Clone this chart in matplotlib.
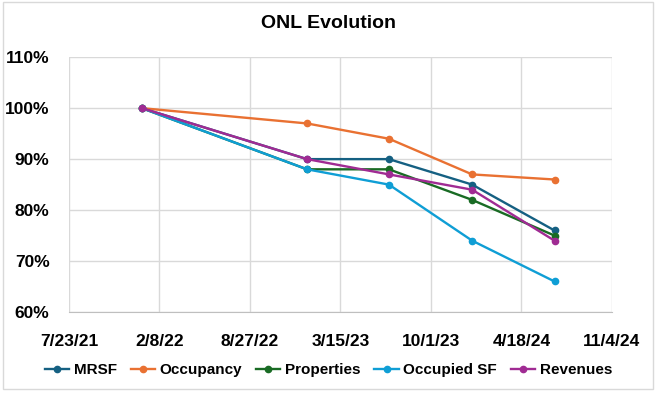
import numpy as np
import pandas as pd
import matplotlib
matplotlib.use("Agg")
import matplotlib.pyplot as plt
from matplotlib.patches import Rectangle

# data
dates = pd.to_datetime(["2021-12-31", "2022-12-31", "2023-06-30", "2023-12-31", "2024-06-30"])
mrsf = [100, 90, 90, 85, 76]
occupancy = [100, 97, 94, 87, 86]
properties = [100, 88, 88, 82, 75]
occupied_sf = [100, 88, 85, 74, 66]
revenues = [100, 90, 87, 84, 74]

series = [("MRSF", mrsf, "#156082"),
          ("Occupancy", occupancy, "#E97132"),
          ("Properties", properties, "#196B24"),
          ("Occupied SF", occupied_sf, "#0F9ED5"),
          ("Revenues", revenues, "#A02B93")]

x_start = pd.Timestamp("2021-07-23")
x_ticks = [x_start + pd.Timedelta(days=200 * i) for i in range(7)]

plt.rcParams['font.family'] = ['Liberation Sans', 'DejaVu Sans']
plt.rcParams['font.weight'] = 'bold'

fig = plt.figure(figsize=(6.57, 3.97), dpi=100)
ax = fig.add_axes([0.105, 0.214, 0.8265, 0.642])

for name, vals, col in series:
    ax.plot(dates, np.array(vals) / 100, '-o', color=col, lw=1.7, ms=4.5, label=name)

ax.set_xlim(x_ticks[0], x_ticks[-1])
ax.set_xticks(x_ticks)
ax.set_xticklabels([f"{d.month}/{d.day}/{d.strftime('%y')}" for d in x_ticks])
ax.set_ylim(0.6, 1.1)
ax.set_yticks(np.arange(0.6, 1.101, 0.1))
ax.set_yticklabels([f"{int(round(v * 100))}%" for v in np.arange(0.6, 1.101, 0.1)])

ax.grid(True, color="#D9D9D9", lw=1)
ax.set_axisbelow(True)
for s in ['top', 'right', 'left']:
    ax.spines[s].set_visible(False)
ax.spines['bottom'].set_color("#BFBFBF")
ax.tick_params(length=0, labelsize=12.5, colors='black')
ax.tick_params(axis='x', pad=16)
ax.tick_params(axis='y', pad=14)

fig.text(0.5, 0.94, "ONL Evolution", ha='center', va='center', fontsize=14, fontweight='bold')
fig.legend(loc='center', bbox_to_anchor=(0.5, 0.068), ncol=5, frameon=False,
           fontsize=11, handlelength=1.6, handletextpad=0.3, columnspacing=0.9)

fig.patches.append(Rectangle((0.004, 0.02), 0.99, 0.975, transform=fig.transFigure,
                             fill=False, edgecolor="#D9D9D9", lw=1))

fig.savefig("out.png", dpi=100)
